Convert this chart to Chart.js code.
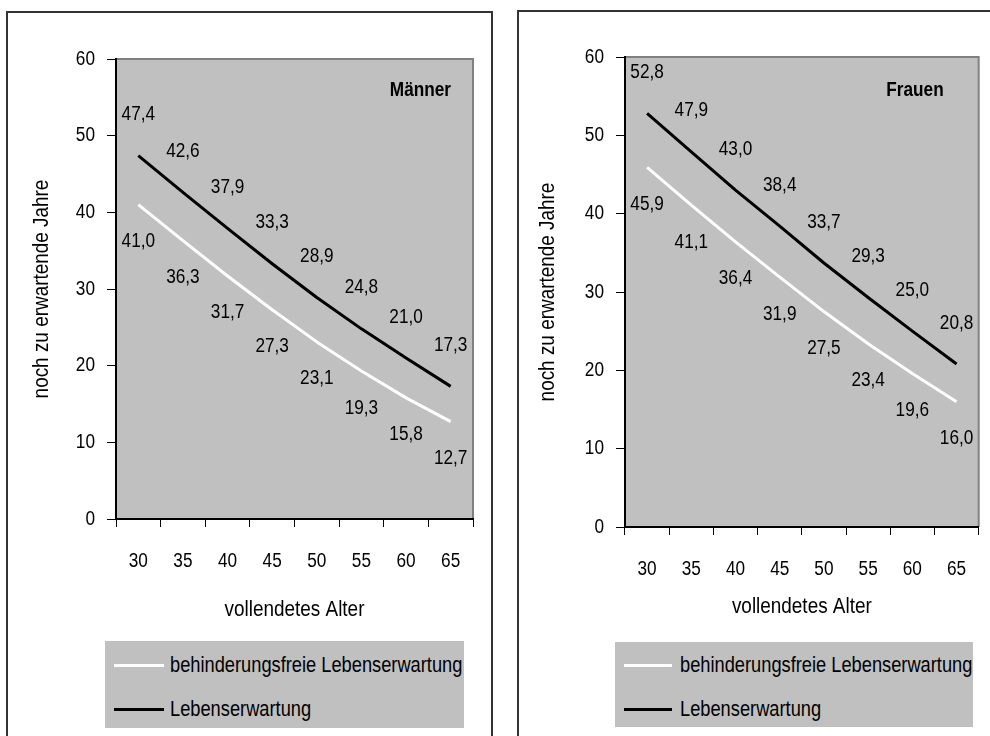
<!DOCTYPE html>
<html lang="de">
<head>
<meta charset="utf-8">
<title>Lebenserwartung</title>
<script src="https://cdn.jsdelivr.net/npm/chart.js@4.4.0/dist/chart.umd.min.js"></script>
<style>
  body { margin: 0; background: #fff; width: 990px; height: 736px; overflow: hidden; position: relative;
         font-family: 'Liberation Sans', Arial, sans-serif; }
  .rahmen { position: absolute; border: 2px solid #333; border-bottom: none; }
  canvas { position: absolute; top: 0; }
  .legende { position: absolute; background: #c0c0c0; }
  .linie { position: absolute; height: 3px; }
  .text { position: absolute; font-size: 22px; line-height: 26px; white-space: nowrap; color: #000;
          transform: scaleX(0.83); transform-origin: left center; }
</style>
</head>
<body>
<div class="rahmen" style="left:6px; top:11px; width:483px; height:740px;"></div>
<div class="rahmen" style="left:517px; top:10px; width:490px; height:740px;"></div>

<canvas id="maenner" width="495" height="736" style="left:0px;"></canvas>
<canvas id="frauen" width="485" height="736" style="left:505px;"></canvas>

<div class="legende" id="legMaenner" style="left:105px; top:641px; width:359px; height:87px;"></div>
<div class="legende" id="legFrauen" style="left:615px; top:642px; width:358px; height:85px;"></div>

<script>
// vollendetes Alter
const alter = ['30', '35', '40', '45', '50', '55', '60', '65'];

// Männer
const maennerFrei = [41.0, 36.3, 31.7, 27.3, 23.1, 19.3, 15.8, 12.7];
const maennerGesamt = [47.4, 42.6, 37.9, 33.3, 28.9, 24.8, 21.0, 17.3];

// Frauen
const frauenFrei = [45.9, 41.1, 36.4, 31.9, 27.5, 23.4, 19.6, 16.0];
const frauenGesamt = [52.8, 47.9, 43.0, 38.4, 33.7, 29.3, 25.0, 20.8];

const yTicks = [0, 10, 20, 30, 40, 50, 60];

const schrift = "'Liberation Sans', Arial, sans-serif";
const schmal = 0.86; // Text schmaler zeichnen (wie Arial Narrow)
Chart.defaults.font.family = schrift;
Chart.defaults.font.size = 20;
Chart.defaults.color = '#000';

// alle Texte im Canvas horizontal stauchen
const schmalText = {
  id: 'schmalText',
  beforeInit(chart) {
    const ctx = chart.ctx;
    const orig = ctx.fillText.bind(ctx);
    ctx.fillText = function (t, x, y) {
      ctx.save();
      ctx.translate(x, y);
      ctx.scale(schmal, 1);
      orig(t, 0, 0);
      ctx.restore();
    };
  }
};

// grauer Plotbereich mit grauem Rand oben und rechts
const hintergrund = {
  id: 'hintergrund',
  beforeDraw(chart) {
    const { ctx, chartArea: a } = chart;
    ctx.save();
    ctx.fillStyle = '#c0c0c0';
    ctx.fillRect(a.left, a.top, a.right - a.left, a.bottom - a.top);
    ctx.strokeStyle = '#808080';
    ctx.lineWidth = 2;
    ctx.beginPath();
    ctx.moveTo(a.left, a.top);
    ctx.lineTo(a.right, a.top);
    ctx.lineTo(a.right, a.bottom);
    ctx.stroke();
    ctx.restore();
  }
};

// Werte an den Linien (mit Komma)
const werte = {
  id: 'werte',
  afterDatasetsDraw(chart) {
    const ctx = chart.ctx;
    ctx.save();
    ctx.font = '20px ' + schrift;
    ctx.fillStyle = '#000';
    ctx.textAlign = 'center';
    ctx.textBaseline = 'middle';
    chart.data.datasets.forEach((ds, i) => {
      const meta = chart.getDatasetMeta(i);
      meta.data.forEach((pt, j) => {
        const txt = ds.data[j].toFixed(1).replace('.', ',');
        ctx.fillText(txt, pt.x, pt.y + ds.labelOffset);
      });
    });
    ctx.restore();
  }
};

// "Männer" / "Frauen" im Plotbereich
const beschriftung = {
  id: 'beschriftung',
  afterDraw(chart, args, opts) {
    const { ctx, chartArea: a } = chart;
    ctx.save();
    ctx.font = 'bold 20px ' + schrift;
    ctx.fillStyle = '#000';
    ctx.textAlign = 'right';
    ctx.textBaseline = 'middle';
    ctx.fillText(opts.text, a.right - opts.right, a.top + opts.top);
    ctx.restore();
  }
};

function diagramm(id, frei, gesamt, titel, lay) {
  return new Chart(document.getElementById(id), {
    type: 'line',
    data: {
      labels: alter,
      datasets: [
        {
          label: 'behinderungsfreie Lebenserwartung',
          data: frei,
          borderColor: '#ffffff',
          backgroundColor: '#ffffff',
          borderWidth: 3,
          pointRadius: 0,
          tension: 0,
          borderJoinStyle: 'round',
          labelOffset: 37
        },
        {
          label: 'Lebenserwartung',
          data: gesamt,
          borderColor: '#000000',
          backgroundColor: '#000000',
          borderWidth: 3,
          pointRadius: 0,
          tension: 0,
          borderJoinStyle: 'round',
          labelOffset: -41
        }
      ]
    },
    options: {
      responsive: false,
      animation: false,
      layout: { padding: lay.padding },
      plugins: {
        legend: { display: false },
        tooltip: { enabled: false },
        beschriftung: titel
      },
      scales: {
        x: {
          offset: true,
          grid: { offset: true, drawOnChartArea: false, drawTicks: true, tickLength: 8, color: '#000', lineWidth: 1 },
          border: { display: true, color: '#000', width: 2 },
          ticks: { padding: 22, maxRotation: 0, autoSkip: false, color: '#000' },
          title: { display: true, text: 'vollendetes Alter', color: '#000', font: { size: 22 }, padding: { top: 4, bottom: 4 } },
          afterFit(s) { s.height = lay.xHeight; }
        },
        y: {
          min: 0,
          max: 60,
          afterBuildTicks(s) { s.ticks = yTicks.map(v => ({ value: v })); },
          grid: { drawOnChartArea: false, drawTicks: true, tickLength: 9, color: '#000', lineWidth: 1 },
          border: { display: true, color: '#000', width: 2 },
          ticks: { padding: 12, color: '#000' },
          title: { display: true, text: 'noch zu erwartende Jahre', color: '#000', font: { size: 22 }, padding: { top: 4, bottom: 4 } },
          afterFit(s) { s.width = lay.yWidth; }
        }
      }
    },
    plugins: [schmalText, hintergrund, werte, beschriftung]
  });
}

function legende(chart, el, opts) {
  chart.data.datasets.forEach((ds, i) => {
    const yMitte = opts.top + i * 44;
    const l = document.createElement('div');
    l.className = 'linie';
    l.style.left = opts.lineLeft + 'px';
    l.style.width = opts.lineWidth + 'px';
    l.style.top = (yMitte - 1.5) + 'px';
    l.style.background = ds.borderColor;
    el.appendChild(l);
    const t = document.createElement('div');
    t.className = 'text';
    t.style.left = opts.textLeft + 'px';
    t.style.top = (yMitte - 13) + 'px';
    t.textContent = ds.label;
    el.appendChild(t);
  });
}

const cM = diagramm('maenner', maennerFrei, maennerGesamt,
  { text: 'Männer', right: 22, top: 31 },
  { padding: { left: 25, right: 22, top: 59, bottom: 109 }, yWidth: 91, xHeight: 108 });

const cF = diagramm('frauen', frauenFrei, frauenGesamt,
  { text: 'Frauen', right: 35, top: 33 },
  { padding: { left: 26, right: 5, top: 57, bottom: 112 }, yWidth: 94, xHeight: 97 });

legende(cM, document.getElementById('legMaenner'), { top: 24, lineLeft: 9, lineWidth: 50, textLeft: 65 });
legende(cF, document.getElementById('legFrauen'), { top: 23, lineLeft: 9, lineWidth: 48, textLeft: 65 });
</script>
</body>
</html>
